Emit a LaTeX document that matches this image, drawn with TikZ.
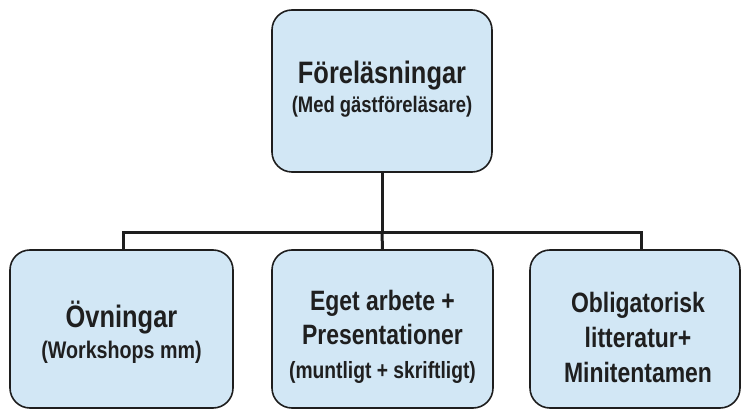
\documentclass[tikz,border=0pt]{standalone}
\usepackage{fontspec}
\setmainfont{Liberation Sans}[FakeStretch=0.82]
\usetikzlibrary{calc}
\definecolor{boxfill}{RGB}{210,231,245}
\definecolor{edge}{RGB}{30,30,30}
\tikzset{
  box/.style={draw=edge, line width=1.6pt, fill=boxfill, rounded corners=20pt, inner sep=0pt},
  txt/.style={align=center, inner sep=0pt, text=black!88},
  conn/.style={draw=edge, line width=3pt},
}
\newcommand{\fs}[2]{\fontsize{#1}{#2}\selectfont\bfseries}
\begin{document}
\begin{tikzpicture}[x=1pt,y=1pt]
\useasboundingbox (0,0) rectangle (742,410);
\node[box, minimum width=220pt, minimum height=162pt] (top) at (382,319) {};
\node[box, minimum width=223pt, minimum height=158pt] (left) at (121.5,81) {};
\node[box, minimum width=221pt, minimum height=158pt] (mid) at (382.5,81) {};
\node[box, minimum width=210pt, minimum height=158pt] (right) at (635,81) {};

\node[txt, font=\fs{31}{29}] (topT) at ($(top.center)+(0,2)$)
  {Föreläsningar\\{\fs{22.5}{29}(Med gästföreläsare)}};
\node[txt, font=\fs{31}{31}] (leftT) at ($(left.center)+(0,-3)$)
  {Övningar\\{\fs{24}{31}(Workshops mm)}};
\node[txt, font=\fs{28}{34}] (midT) at ($(mid.center)+(0,-8)$)
  {Eget arbete +\\Presentationer\\{\fs{23.5}{34}(muntligt + skriftligt)}};
\node[txt, font=\fs{28}{35}] (rightT) at ($(right.center)+(3,-8)$)
  {Obligatorisk\\litteratur+\\Minitentamen};

\coordinate (busL) at (123,177);
\coordinate (busR) at (641,177);
\coordinate (busM) at (top.south |- busL);
\draw[conn] (top.south) -- (busM);
\draw[conn, line join=miter] (left.north -| busL) -- (busL) -- (busR) -- (right.north -| busR);
\draw[conn] (busM) -- (mid.north);
\end{tikzpicture}
\end{document}
